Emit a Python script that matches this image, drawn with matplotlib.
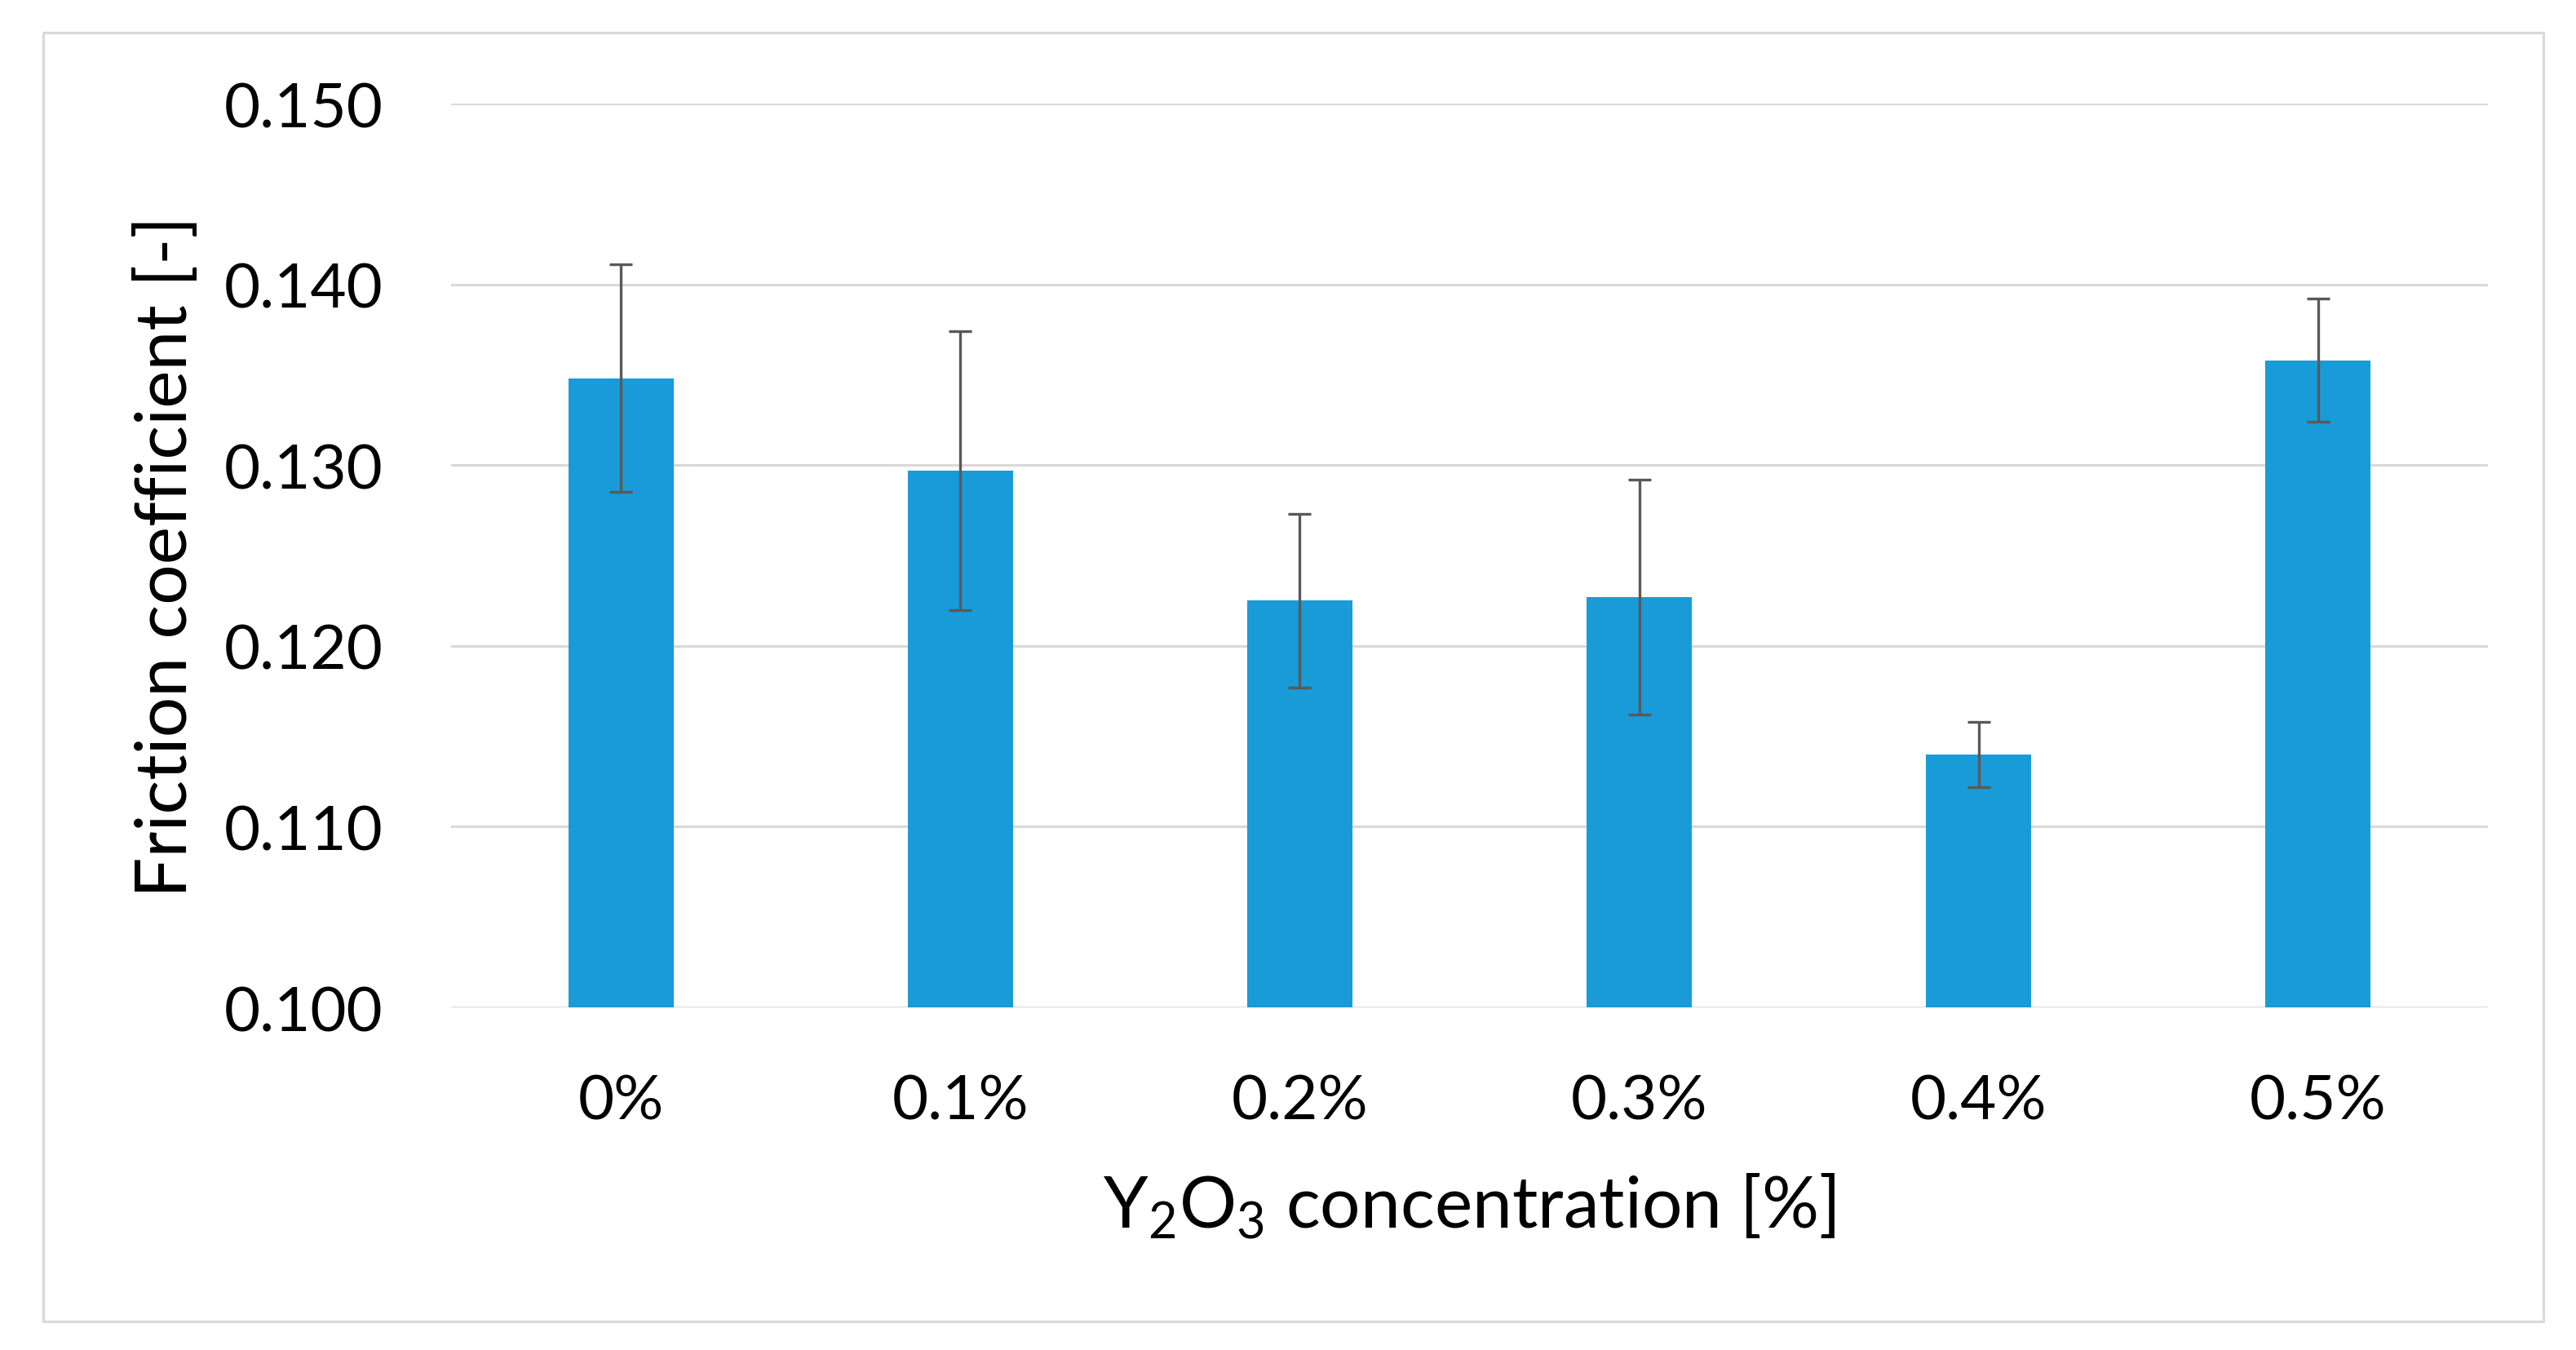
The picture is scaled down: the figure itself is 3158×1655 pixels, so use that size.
import matplotlib.pyplot as plt
from matplotlib.patches import Rectangle

plt.rcParams['font.family'] = ['Lato', 'DejaVu Sans']
plt.rcParams['mathtext.fontset'] = 'custom'
plt.rcParams['mathtext.rm'] = 'Lato'
plt.rcParams['mathtext.default'] = 'regular'

labels = ['0%', '0.1%', '0.2%', '0.3%', '0.4%', '0.5%']
friction = [0.1348, 0.1297, 0.1225, 0.1227, 0.1140, 0.1358]
errors = [0.0063, 0.0077, 0.0048, 0.0065, 0.0018, 0.0034]
yticks = [0.100, 0.110, 0.120, 0.130, 0.140, 0.150]

fig = plt.figure(figsize=(31.58, 16.56), dpi=100)
ax = fig.add_axes([0.1751, 0.2536, 0.7907, 0.6691])

# light grey frame round the whole chart
fig.patches.append(Rectangle((0.0168, 0.0211), 0.9705, 0.9541, transform=fig.transFigure,
                             fill=False, edgecolor='#d9d9d9', linewidth=2.2))

x = range(len(labels))
ax.bar(x, friction, width=0.31, color='#199BD8', zorder=2)
ax.errorbar(x, friction, yerr=errors, fmt='none', ecolor='#595959',
            elinewidth=2.4, capsize=10, capthick=2.4, zorder=3)

ax.set_xlim(-0.5, len(labels) - 0.5)
ax.set_ylim(0.100, 0.150)
ax.set_yticks(yticks)
ax.set_yticklabels([f'{v:.3f}' for v in yticks])
ax.set_xticks(list(x))
ax.set_xticklabels(labels)
ax.grid(axis='y', color='#d9d9d9', linewidth=2.2, zorder=0)
ax.set_axisbelow(True)
for s in ax.spines.values():
    s.set_visible(False)
ax.tick_params(axis='both', length=0, labelsize=55, colors='black')
ax.tick_params(axis='y', pad=60)
ax.tick_params(axis='x', pad=58)

ax.set_xlabel('Y$_2$O$_3$ concentration [%]', fontsize=63, labelpad=37)
ax.set_ylabel('Friction coefficient [-]', fontsize=63, labelpad=22)

fig.savefig('out.png', dpi=100)
